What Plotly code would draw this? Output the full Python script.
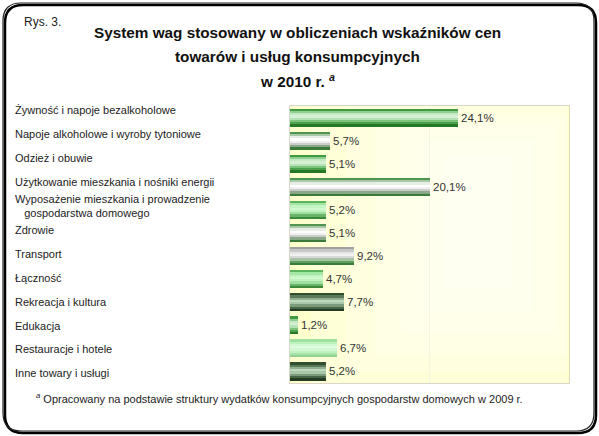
import plotly.graph_objects as go

# dane
kategorie = [
    "Żywność i napoje bezalkoholowe",
    "Napoje alkoholowe i wyroby tytoniowe",
    "Odzież i obuwie",
    "Użytkowanie mieszkania i nośniki energii",
    "Wyposażenie mieszkania i prowadzenie<br>   gospodarstwa domowego",
    "Zdrowie",
    "Transport",
    "Łączność",
    "Rekreacja i kultura",
    "Edukacja",
    "Restauracje i hotele",
    "Inne towary i usługi",
]
wagi = [24.1, 5.7, 5.1, 20.1, 5.2, 5.1, 9.2, 4.7, 7.7, 1.2, 6.7, 5.2]

tytul = [
    "System wag stosowany w obliczeniach wskaźników cen",
    "towarów i usług konsumpcyjnych",
    "w 2010 r.",
]
przypis = "Opracowany na podstawie struktury wydatków konsumpcyjnych gospodarstw domowych w 2009 r."

# kolory pasków (gradient od góry do dołu)
G = ["#3f9a3f", "#8fcf8f", "#c6eac6", "#d6f0d6", "#b4e2b4", "#7cc47c", "#4c9f4c", "#257825"]
W = ["#4f944f", "#a8c8a8", "#e6eee6", "#ffffff", "#f0f0f0", "#cccccc", "#88a888", "#3a7a3a"]
T = ["#a0a0a0", "#c8c8c8", "#e6e6e6", "#f2f2f2", "#d8d8d8", "#a4c4a4", "#5e9e5e", "#3a7a3a"]
L = ["#5cb45c", "#a4e6a4", "#c4f4c4", "#d2f8d2", "#c2f2c2", "#a0e0a0", "#68b468", "#3a8a3a"]
R = ["#a0e0a0", "#bcf2bc", "#d2fad2", "#e0fce0", "#d2f8d2", "#c0f2c0", "#a8e4a8", "#92d292"]
D = ["#2f4f2f", "#5a7a5a", "#90b090", "#c0d8c0", "#a8c6a8", "#7a9a7a", "#466646", "#243c24"]
kolory = [G, W, G, W, L, W, T, L, D, G, R, D]

W_FIG, H_FIG = 599, 436
ML, MR, MT, MB = 290, 30, 106, 53
PW, PH = W_FIG - ML - MR, H_FIG - MT - MB


def px(x):
    return (x - ML) / PW


def py(y):
    return (H_FIG - MB - y) / PH


fig = go.Figure()

n = len(G)
szer = 0.78
pas = szer / n
idx = list(range(len(kategorie)))
for k in range(n):
    fig.add_trace(go.Bar(
        y=idx, x=wagi, orientation="h",
        width=pas * 1.05, offset=-szer / 2 + k * pas,
        marker=dict(color=[c[k] for c in kolory], line=dict(width=0)),
        hoverinfo="skip", showlegend=False,
    ))

# etykiety wartości
fig.add_trace(go.Bar(
    y=idx, x=wagi, orientation="h",
    width=szer, offset=-szer / 2,
    marker=dict(color="rgba(0,0,0,0)", line=dict(width=0)),
    texttemplate="%{x:.1f}%", textposition="outside",
    textfont=dict(family="Liberation Sans", size=11.5, color="#333333"),
    cliponaxis=False, showlegend=False,
))

# etykiety kategorii (oś pomocnicza)
for i, k in enumerate(kategorie):
    fig.add_annotation(
        x=px(13), xref="paper", y=i, yref="y2",
        text=k, showarrow=False, xanchor="left", yanchor="middle", align="left",
        font=dict(family="Liberation Sans", size=11, color="#222222"),
    )

fig.update_layout(
    width=W_FIG, height=H_FIG,
    margin=dict(l=ML, r=MR, t=MT, b=MB),
    paper_bgcolor="white", plot_bgcolor="#FFFFC2",
    barmode="overlay", bargap=0, separators=",.",
    xaxis=dict(range=[0, 40], dtick=20, showgrid=True, gridcolor="#F4F4E0",
               gridwidth=1, zeroline=False, showticklabels=False, ticks="",
               showline=True, mirror=True, linecolor="#D8D8C8", linewidth=1),
    yaxis=dict(range=[11.5, -0.5], showticklabels=False, showgrid=False,
               zeroline=False, ticks="",
               showline=True, mirror=True, linecolor="#D8D8C8", linewidth=1),
    yaxis2=dict(range=[11.4, -0.17], domain=[0, 1], overlaying="y",
                anchor="x", visible=False),
    font=dict(family="Liberation Sans", color="#222222"),
)

# jasny środek tła (łagodny gradient)
for (hw, y0, y1) in [(30, 0.0, 1.0), (24, 0.0, 1.0), (19, 0.04, 1.0), (15, 0.1, 0.97),
                     (11, 0.18, 0.93), (8, 0.26, 0.88), (5, 0.34, 0.82)]:
    fig.add_shape(type="rect", xref="x", yref="paper", x0=max(0, 27 - hw),
                  x1=min(39.8, 27 + hw), y0=y0, y1=y1,
                  fillcolor="white", opacity=0.2, line=dict(width=0), layer="below")

# ramka z zaokrąglonymi rogami
def ramka(x0, y0, x1, y1, r):
    return (f"M {px(x0 + r)},{py(y0)} L {px(x1 - r)},{py(y0)} "
            f"Q {px(x1)},{py(y0)} {px(x1)},{py(y0 + r)} "
            f"L {px(x1)},{py(y1 - r)} Q {px(x1)},{py(y1)} {px(x1 - r)},{py(y1)} "
            f"L {px(x0 + r)},{py(y1)} Q {px(x0)},{py(y1)} {px(x0)},{py(y1 - r)} "
            f"L {px(x0)},{py(y0 + r)} Q {px(x0)},{py(y0)} {px(x0 + r)},{py(y0)} Z")


fig.add_shape(type="path", xref="paper", yref="paper", path=ramka(5, 5, 596, 433, 18),
              line=dict(color="#000000", width=2.5))
fig.add_shape(type="path", xref="paper", yref="paper", path=ramka(3, 3, 594, 431, 18),
              line=dict(color="#222222", width=1.2))

# tytuł
fig.add_annotation(x=px(22), y=py(22), xref="paper", yref="paper", text="Rys. 3.",
                   showarrow=False, xanchor="left", yanchor="middle",
                   font=dict(family="Liberation Sans", size=12, color="#222222"))
for j, (t, yy) in enumerate(zip(tytul, [32, 56, 80])):
    if j == 2:
        t = t + " <sup><i>a</i></sup>"
    fig.add_annotation(x=px(297), y=py(yy), xref="paper", yref="paper",
                       text=f"<b>{t}</b>", showarrow=False, xanchor="center",
                       yanchor="middle",
                       font=dict(family="Liberation Sans", size=15.3, color="#111111"))

# przypis
fig.add_annotation(x=px(34), y=py(398), xref="paper", yref="paper",
                   text="<sup><i>a</i></sup> " + przypis, showarrow=False,
                   xanchor="left", yanchor="middle",
                   font=dict(family="Liberation Sans", size=11, color="#222222"))

fig.write_html("out.html", config={"displayModeBar": False},
               post_script="document.body.style.margin='0px';")
